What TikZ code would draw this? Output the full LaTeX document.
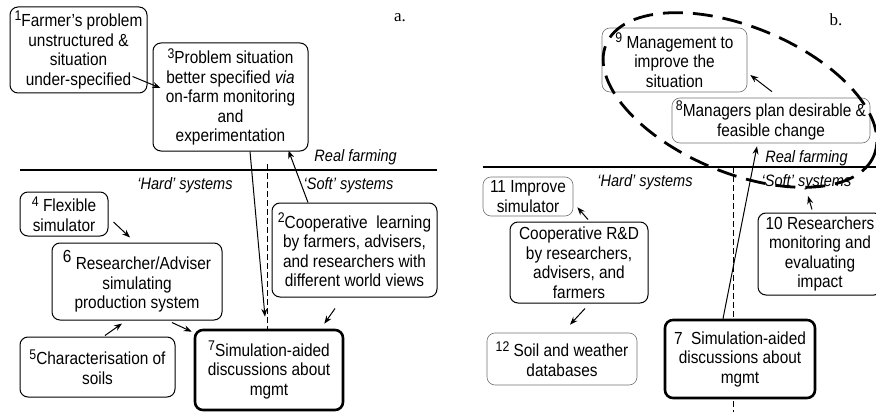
\documentclass[tikz,border=0pt]{standalone}
\usepackage{fontspec}
\setmainfont{Liberation Sans}[FakeStretch=0.88]
\newfontfamily\panelfont{Liberation Serif}
\usetikzlibrary{calc,arrows.meta}

% raised, slightly smaller box number
\newcommand\boxnum[1]{\raisebox{0.33em}{\fontsize{14}{14}\selectfont #1}}

\begin{document}
\begin{tikzpicture}[x=1pt,y=-1pt,
  font=\fontsize{17.5}{19.5}\selectfont,
  box/.style={draw, rounded corners=8pt, line width=1pt, align=center,
              inner sep=0pt, fill=white},
  faint/.style={box, draw=black!55, line width=0.6pt},
  heavy/.style={box, line width=2.6pt},
  arr/.style={-{Stealth[length=8pt,width=6pt]}, line width=1pt},
  lbl/.style={font=\fontsize{16.5}{19}\selectfont\itshape, inner sep=0pt},
  panel/.style={font=\panelfont\fontsize{17}{20}\selectfont},
  divider/.style={line width=1.8pt},
  border/.style={line width=0.8pt, dash pattern=on 6pt off 3pt},
  scope loop/.style={line width=2.8pt, dash pattern=on 20pt off 10pt}
]
\useasboundingbox (0,0) rectangle (876,412);

% ---------------- panel a ----------------
\node[panel] (pa) at (400,18) {a.};
\draw[divider] (20,170) coordinate (la1) -- (437,170) coordinate (la2);
\draw[border] (267,164) coordinate (da1) -- (267,335) coordinate (da2);

\node[lbl, anchor=east] (rfa) at (397,157) {Real farming};
\node[lbl] (hsa) at (185,185) {‘Hard’ systems};
\node[lbl] (ssa) at (348.5,185) {‘Soft’ systems};

\node[box, minimum width=137pt, minimum height=86pt] (a1) at (78.5,50)
  {\boxnum{1}Farmer’s problem\\unstructured \&\\situation\\under-specified};
\node[box, minimum width=155pt, minimum height=108pt] (a3) at (230.5,97)
  {\boxnum{3}Problem situation\\better specified \textit{via}\\on-farm monitoring\\and\\experimentation};
\node[box, minimum width=165pt, minimum height=94pt] (a2) at (354.5,250)
  {\boxnum{2}Cooperative\ \ learning\\by farmers, advisers,\\and researchers with\\different world views};
\node[box, minimum width=88pt, minimum height=44pt] (a4) at (64,214)
  {\boxnum{4} Flexible\\simulator};
\node[box, minimum width=170pt, minimum height=77pt] (a6) at (137,281.5)
  {\raisebox{0.4em}{6} Researcher/Adviser\\simulating\\production system};
\node[box, minimum width=155pt, minimum height=60pt] (a5) at (97.5,367)
  {\boxnum{5}Characterisation of\\soils};
\node[heavy, minimum width=148pt, minimum height=80pt] (a7) at (269,370)
  {\boxnum{7}Simulation-aided\\discussions about\\mgmt};

\draw[arr] ($(a1.south east)+(-15,-17)$) -- ($(a3.west)+(8,-9)$);
\draw[arr] ($(a3.south)+(19.5,0)$) -- ($(a7.north)+(-4,-12)$);
\draw[arr] ($(a2.north)+(-46.5,0)$) -- ($(a3.south east)+(-20,-1)$);
\draw[arr] ($(a2.south)+(-19.5,11)$) -- ($(a7.north east)+(-20,-5)$);
\draw[arr] ($(a4.east)+(5,8)$) -- ($(a6.north)+(-7,-5)$);
\draw[arr] ($(a5.north)+(7.5,-1)$) -- ($(a6.south)+(-15,3)$);
\draw[arr] ($(a6.south)+(35,2)$) -- ($(a7.north west)+(-2,3)$);

% ---------------- panel b ----------------
\node[panel] (pb) at (836,20) {b.};
\draw[divider] (483,167) coordinate (lb1) -- (876,167) coordinate (lb2);
\draw[border] (733,167) coordinate (db1) -- (733,412) coordinate (db2);

\node[lbl] (rfb) at (806.5,158) {Real farming};
\node[lbl] (hsb) at (645,182) {‘Hard’ systems};
\node[lbl] (ssb) at (806.5,182) {‘Soft’ systems};

\node[faint, minimum width=145pt, minimum height=64pt] (b9) at (674.5,60)
  {\boxnum{9} Management to\\improve the\\situation};
\node[faint, minimum width=198pt, minimum height=45pt] (b8) at (771,120.5)
  {\boxnum{8}Managers plan desirable \&\\feasible change};
\node[faint, minimum width=90pt, minimum height=39pt] (b11) at (528,196.5)
  {11 Improve\\simulator};
\node[box, minimum width=138pt, minimum height=81pt] (bc) at (579,262.5)
  {Cooperative R\&D\\by researchers,\\advisers, and\\farmers};
\node[faint, minimum width=150pt, minimum height=52pt] (b12) at (562,359)
  {\boxnum{12} Soil and weather\\databases};
\node[box, minimum width=124pt, minimum height=82pt] (b10) at (820,254)
  {10 Researchers\\monitoring and\\evaluating\\impact};
\node[heavy, minimum width=150pt, minimum height=78pt] (b7) at (740,359)
  {7\ \ Simulation-aided\\discussions about\\mgmt};

\draw[arr] ($(b8.north)+(1,-6)$) -- ($(b9.east)+(3,15)$);
\draw[arr] ($(b7.north)+(-17,0)$) -- ($(b8.south)+(-14,3)$);
\draw[arr] ($(bc.north)+(9,-2)$) -- ($(b11.south east)+(4,-9)$);
\draw[arr] ($(bc.south)+(6,5)$) -- ($(b12.north)+(8,-8)$);
\coordinate (loopend) at (808,196);
\draw[arr] ($(b10.north)+(-8,-3)$) -- (loopend);

% dashed loop round the management cycle
\draw[scope loop, rotate around={-22.5:(740,100)}] (740,100) ellipse [x radius=145, y radius=73];

\end{tikzpicture}
\end{document}
